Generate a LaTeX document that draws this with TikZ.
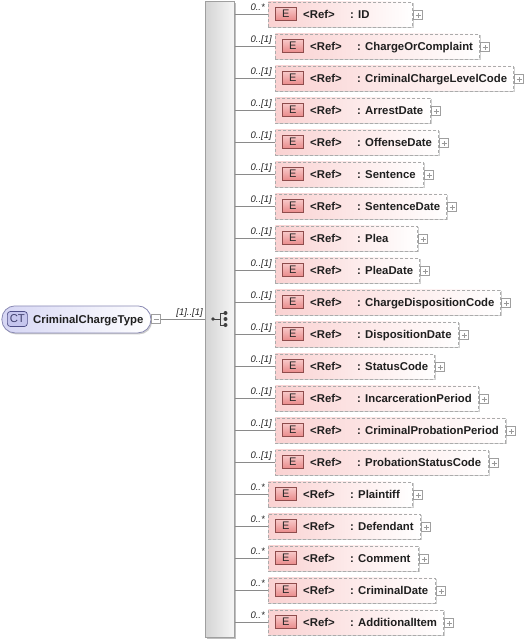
\documentclass[tikz,border=0pt]{standalone}
\usepackage{fontspec}
\setmainfont{Liberation Sans}
\usetikzlibrary{shadows}
\definecolor{conng}{HTML}{8A8A8A}
\definecolor{boxb}{HTML}{ABABAB}
\definecolor{pinkl}{HTML}{FAD2D2}
\definecolor{eicont}{HTML}{F8C8C8}
\definecolor{eiconb}{HTML}{E98A8A}
\definecolor{eborder}{HTML}{8E4C4C}
\definecolor{ctfill}{HTML}{D6D6F4}
\definecolor{ctborder}{HTML}{8A8AB4}
\definecolor{cticonf}{HTML}{C6C6EE}
\definecolor{cticonb}{HTML}{4E4E86}
\definecolor{bard}{HTML}{D4D4D4}
\definecolor{barl}{HTML}{F6F6F6}
\newcommand\cardS{0..*}
\newcommand\cardO{0..[1]}
\begin{document}
\begin{tikzpicture}[x=1pt, y=-1pt, font=\fontsize{11.35}{13.6}\selectfont\bfseries,
  conn/.style={draw=conng, line width=0.8pt},
  shad/.style={drop shadow={shadow xshift=1.2pt, shadow yshift=-1.2pt, opacity=0.18, fill=black}},
  elbox/.style={draw=boxb, line width=0.8pt, dash pattern=on 3pt off 2pt, left color=pinkl, right color=white, minimum height=25pt, inner sep=0pt, anchor=north west, shad},
  eicon/.style={draw=eborder, line width=0.7pt, top color=eicont, bottom color=eiconb, minimum width=21pt, minimum height=13pt, inner sep=0pt, anchor=west, font=\fontsize{11}{13}\selectfont\mdseries, text=black!85},
  lbl/.style={anchor=base west, inner sep=0pt, text=black!88},
  card/.style={anchor=base east, inner sep=0pt, font=\fontsize{9.5}{11}\selectfont\itshape\mdseries, text=black!85},
  expander/.style={draw=gray!75, fill=white, minimum size=9pt, inner sep=0pt, line width=0.6pt},
  expmark/.style={draw=gray!80, line width=0.6pt},
  seqbar/.style={draw=gray!75, line width=0.8pt, left color=bard, right color=barl, inner sep=0pt, anchor=north west, drop shadow={shadow xshift=1.5pt, shadow yshift=-1.5pt, opacity=0.25, fill=black}},
  ctbox/.style={draw=ctborder, line width=0.8pt, left color=ctfill, right color=white, rounded corners=13pt, inner sep=0pt, anchor=north west, drop shadow={shadow xshift=1.2pt, shadow yshift=-1.5pt, opacity=0.2, fill=black}},
  cticon/.style={draw=cticonb, line width=0.7pt, fill=cticonf, rounded corners=3pt, minimum width=20pt, minimum height=15pt, inner sep=0pt, anchor=west, font=\fontsize{11.35}{13}\selectfont\mdseries, text=cticonb!80!black}
]
\useasboundingbox (0,0) rectangle (523,641);

% sequence compositor bar
\node[seqbar, minimum width=29pt, minimum height=636pt] (seq) at (205,1) {};
\coordinate (sqi) at (219,319);
\draw[black!75, line width=0.9pt] (213,319) -- (220,319) (220,313) -- (220,325) (220,313) -- (225,313) (220,325) -- (225,325);
\fill[black!75] (213,319) circle (1.8pt) (225.5,313) circle (2pt) (225.5,319) circle (2pt) (225.5,325) circle (2pt);

% complex type node
\node[ctbox, minimum width=149pt, minimum height=27pt] (ct) at (1.5,305.5) {};
\node[cticon] (cti) at (7,319) {CT};
\node[lbl] (ctn) at (33,323) {CriminalChargeType};
\node[expander] (ctx) at (156,319) {};
\draw[expmark] ([xshift=-2.5pt]ctx.center) -- ([xshift=2.5pt]ctx.center);
\draw[conn] (ctx.east) -- (ctx.east -| seq.west);
\node[card] (cc) at (203,315) {[1]..[1]};

% elements
\foreach \i/\nm/\L/\R/\c in {
  0/ID/268/412/\cardS,
  1/ChargeOrComplaint/275/479/\cardO,
  2/CriminalChargeLevelCode/275/513/\cardO,
  3/ArrestDate/275/430/\cardO,
  4/OffenseDate/275/438/\cardO,
  5/Sentence/275/423/\cardO,
  6/SentenceDate/275/446/\cardO,
  7/Plea/275/417/\cardO,
  8/PleaDate/275/419/\cardO,
  9/ChargeDispositionCode/275/500/\cardO,
  10/DispositionDate/275/458/\cardO,
  11/StatusCode/275/434/\cardO,
  12/IncarcerationPeriod/275/478/\cardO,
  13/CriminalProbationPeriod/275/505/\cardO,
  14/ProbationStatusCode/275/488/\cardO,
  15/Plaintiff/268/412/\cardS,
  16/Defendant/268/420/\cardS,
  17/Comment/268/418/\cardS,
  18/CriminalDate/268/435/\cardS,
  19/AdditionalItem/268/443/\cardS}{
  \pgfmathsetmacro\Y{14+32*\i}
  \pgfmathsetmacro\W{\R-\L}
  \node[elbox, minimum width=\W pt] (b\i) at (\L,\Y-12.5) {};
  \node[eicon] (ic\i) at (\L+7,\Y) {E};
  \node[lbl] (r\i) at (\L+35,\Y+4) {<Ref>};
  \node[lbl] (n\i) at (\L+82,\Y+4) {: \nm};
  \node[expander] (x\i) at (\R+6,\Y+1) {};
  \draw[expmark] ([xshift=-2.5pt]x\i.center) -- ([xshift=2.5pt]x\i.center)
                 ([yshift=-2.5pt]x\i.center) -- ([yshift=2.5pt]x\i.center);
  \node[card] (c\i) at (\L-3,\Y-4) {\c};
  \draw[conn] (seq.east |- b\i.west) -- (b\i.west);
}
\end{tikzpicture}
\end{document}
